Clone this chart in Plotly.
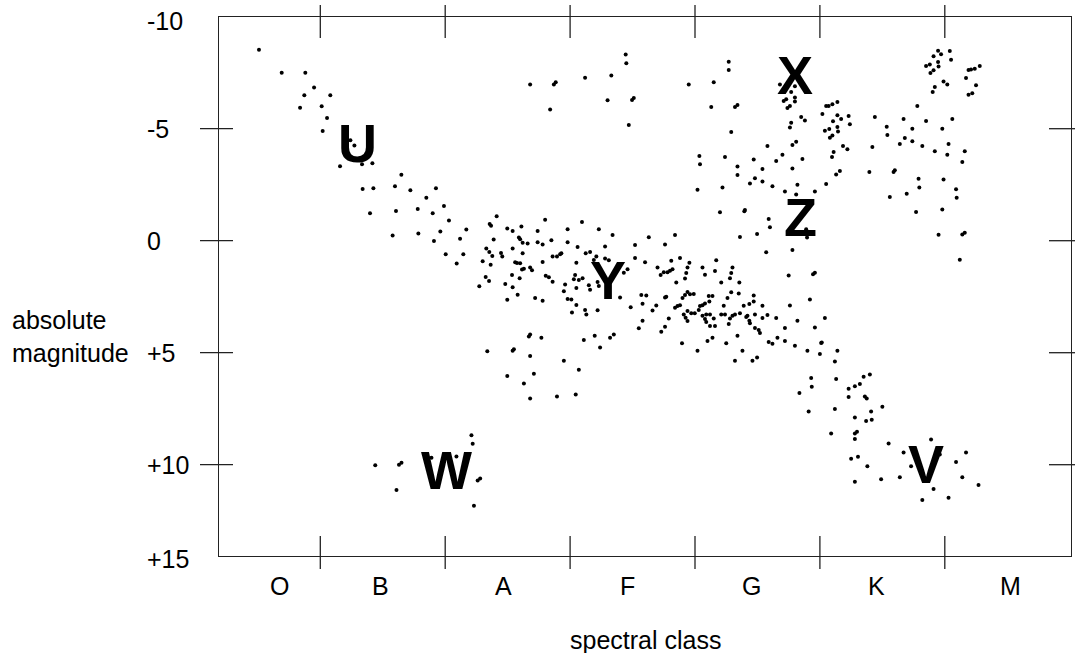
import plotly.graph_objects as go

# ---------------- data (spectral position: B0=10, A0=20, F0=30, G0=40, K0=50, M0=60) ----------------
hot_x = [5.09, 6.91, 8.80, 9.50, 8.72, 10.80, 8.38, 10.11, 10.54, 10.19, 12.41, 12.73, 11.58, 13.34, 14.17,
         16.49, 13.39, 14.25, 15.98, 17.21, 19.26, 18.49, 19.90,
         13.98, 16.06, 17.80, 19.00, 20.30, 15.79, 17.85, 19.61, 19.10, 21.69, 21.19, 20.04, 21.45, 20.92,
         24.12, 23.56, 23.67, 24.97, 23.88, 23.29, 23.53, 23.77, 24.47, 24.57, 23.00, 23.64, 23.24, 23.51,
         22.73, 24.81, 24.97, 23.37, 24.97]
hot_m = [-8.52, -7.50, -7.50, -6.84, -6.49, -6.49, -5.93, -6.00, -5.48, -4.90, -4.48, -4.25, -3.32, -3.41, -3.46,
         -2.94, -2.31, -2.34, -2.43, -2.25, -2.34, -1.92, -1.55,
         -1.22, -1.33, -1.42, -1.22, -0.90, -0.23, -0.32, -0.41, 0.01, -0.50, -0.09, 0.61, 0.61, 1.02,
         -1.09, -0.75, -0.67, -0.54, -0.05, 0.35, 0.50, 0.68, 0.55, 0.71, 0.92, 1.07, 1.62, 1.80,
         2.03, 1.93, 2.64, 4.94, 6.04]

mid_x = [28.0, 30.95, 25.4, 26.1, 27.4, 29.8, 32.3, 33.4, 36.3, 38.4, 37.6, 35.2, 42.0, 43.95, 44.0, 45.9, 46.0,
         44.97, 43.6, 45.7, 47.8, 25.9, 26.0, 26.2, 26.6, 27.4, 27.8, 28.5, 29.8, 30.6, 25.4, 26.2, 28.6, 28.95,
         29.2, 29.3, 31.25, 31.6, 32.1, 32.8, 32.8, 33.1, 35.2, 36.0, 27.8, 25.6, 25.75, 26.0, 26.3, 26.15, 26.8,
         26.95, 30.5, 31.9, 25.35, 25.96, 28.05, 28.3, 28.6, 30.4, 30.3, 30.7, 31.0, 29.6, 30.5, 31.5, 31.6, 32.2,
         32.3, 25.4, 25.8, 27.2, 27.8, 29.5, 29.8, 30.1, 30.5, 31.2, 31.3, 30.15, 32.2, 34.0, 34.3, 34.6, 34.85,
         37.0, 37.25, 37.5, 37.8, 38.0, 38.2, 38.1, 38.8, 39.55, 39.4, 39.3, 39.2, 38.5, 40.6, 40.8, 41.7, 41.6,
         43.0, 42.9, 42.8, 42.1, 43.55, 35.7, 36.1, 35.8, 36.6, 36.9, 37.6, 37.7, 37.9, 37.6, 37.3, 35.8, 35.5,
         38.4, 38.6, 38.8, 39.0, 39.2, 39.4, 39.6, 39.9, 39.1, 39.4, 39.25, 39.4, 39.7, 39.98, 40.3, 40.4, 40.6,
         40.8, 41.1, 41.4, 41.15, 40.6, 40.9, 40.8, 41.2, 41.5, 41.2, 41.6, 40.9, 42.3, 42.6, 42.9, 43.5, 42.1,
         42.4, 42.7, 42.8, 43.0, 43.2, 43.6, 43.9, 44.35, 44.7, 44.7, 45.4, 44.2, 44.1, 44.8, 44.35, 44.4, 44.8,
         45.1, 45.2, 45.4, 45.8, 46.5, 47.2, 45.9, 46.2, 46.6, 47.2, 48.0, 47.6, 47.5, 48.2, 43.4, 42.5, 43.8,
         41.4, 41.0, 40.2, 38.96, 43.2, 44.6, 44.97, 26.8, 26.7, 27.7, 25.4, 25.5, 26.8, 27.1, 26.3, 26.8, 28.95,
         30.45, 29.5, 30.7, 31.1, 31.97, 32.4, 33.2, 33.5]
mid_m = [-0.94, -0.84, -0.43, -0.63, -0.43, -0.51, -0.51, -0.26, -0.15, -0.26, 0.17, 0.19, -1.27, -1.31, -1.37,
         -0.97, -0.60, -0.30, -0.17, 0.52, 0.41, -0.14, -0.06, 0.09, 0.12, 0.07, 0.17, -0.02, 0.07, 0.28, 0.35,
         0.56, 0.71, 0.71, 0.61, 0.56, 0.56, 0.50, 0.71, 0.26, 0.79, 0.87, 0.77, 0.96, 0.95, 0.96, 0.99, 1.01,
         1.25, 1.29, 1.20, 1.32, 0.98, 0.86, 1.53, 1.68, 1.57, 1.63, 1.83, 1.53, 1.72, 1.75, 1.68, 1.95, 2.11,
         1.99, 2.19, 1.84, 2.02, 2.08, 2.41, 2.56, 2.68, 2.26, 2.60, 2.63, 2.87, 3.09, 3.30, 3.21, 3.11, 2.54,
         1.43, 1.28, 2.97, 1.20, 1.53, 1.41, 1.41, 1.34, 1.28, 0.89, 0.77, 0.98, 1.20, 1.44, 1.69, 1.87, 1.20,
         1.52, 0.87, 1.35, 1.20, 1.44, 1.68, 1.87, 1.87, 2.42, 2.45, 2.81, 3.12, 2.89, 2.54, 2.50, 3.47, 3.84,
         4.07, 3.57, 3.91, 2.99, 2.91, 2.88, 2.56, 2.42, 2.29, 2.39, 2.38, 3.29, 3.14, 3.44, 3.58, 3.24, 3.24,
         3.09, 2.91, 2.88, 2.80, 2.47, 2.47, 2.71, 3.35, 3.30, 3.49, 3.30, 3.47, 3.81, 3.81, 3.63, 2.90, 2.56,
         2.30, 2.36, 3.30, 3.30, 3.72, 3.47, 3.35, 3.29, 3.24, 2.90, 2.83, 2.71, 2.45, 2.90, 3.35, 3.41, 3.30,
         3.57, 3.69, 3.90, 3.99, 4.12, 3.45, 3.32, 3.45, 3.90, 4.52, 4.60, 4.33, 4.48, 4.69, 2.89, 1.55, 3.57,
         4.24, 4.58, 4.91, 4.33, 4.48, 4.91, 4.58, 5.36, 5.36, 5.21, 4.19, 4.28, 4.33, 4.91, 4.85, 5.15, 5.94,
         6.37, 7.04, 6.96, 6.87, 5.36, 5.76, 4.43, 4.24, 4.77, 4.33, 4.19]

bright_x = [26.8, 28.7, 28.85, 28.4, 31.2, 33.3, 33.0, 34.45, 34.5, 34.96, 35.1, 34.7, 39.5, 41.5, 42.7, 42.7,
            41.3, 43.2, 43.4, 42.9, 40.35, 40.4, 42.4, 43.4, 43.4, 44.7, 45.4, 44.8, 44.4, 45.4, 46.2, 47.2,
            40.2, 42.2, 45.8, 46.5, 47.0, 47.8, 48.1, 47.8, 48.2, 48.1, 46.8, 47.7, 48.0, 47.1, 47.3, 48.0, 48.0,
            47.4, 47.6, 47.7, 47.6,
            48.5, 48.8, 48.6, 49.6, 50.5, 50.2, 50.5, 50.7, 51.0, 51.4, 51.05, 51.4, 51.7, 52.3, 52.4, 51.4,
            51.45, 50.4, 50.75, 51.0, 50.8, 51.85, 52.2, 51.1, 50.97, 51.6, 51.3, 54.4, 54.2, 53.96, 55.35, 55.4,
            56.7, 56.8, 56.4, 57.4, 57.4, 57.8, 58.5, 58.2, 59.2, 59.8, 60.3, 60.2, 60.6, 61.6, 61.4, 55.9, 56.0,
            55.6, 56.95, 57.9, 57.96, 59.9, 60.9, 60.95, 59.46, 60.4, 59.1, 59.7, 60.5, 58.5, 58.8, 59.46, 59.5,
            58.85, 59.1, 59.9, 60.2, 59.2, 59.03, 61.7, 61.9, 62.1, 62.4, 62.8, 62.5, 61.9, 62.2]
bright_m = [-6.97, -6.97, -7.07, -5.86, -7.28, -7.38, -6.27, -8.31, -7.92, -6.28, -6.37, -5.17, -6.97, -7.07,
            -7.99, -7.62, -5.97, -5.97, -6.06, -4.85, -3.78, -3.41, -3.74, -3.31, -2.93, -3.63, -3.20, -2.79,
            -2.55, -2.64, -2.43, -2.20, -2.28, -2.38, -4.23, -3.56, -3.84, -4.27, -4.42, -3.22, -2.50, -2.06,
            -6.97, -6.64, -6.89, -6.24, -6.31, -6.39, -6.21, -5.92, -6.01, -5.27, -5.05,
            -5.52, -5.37, -3.65, -2.20, -2.53, -5.66, -6.01, -6.01, -6.09, -6.19, -5.33, -5.60, -5.43, -5.57,
            -5.20, -5.08, -4.88, -4.91, -4.99, -4.70, -4.60, -4.23, -4.08, -3.96, -3.74, -3.11, -2.96, -5.52,
            -4.18, -3.07, -5.09, -4.72, -5.43, -4.59, -4.32, -5.00, -4.44, -6.01, -5.34, -4.23, -3.99, -5.00,
            -4.32, -3.84, -5.43, -3.99, -3.51, -3.07, -3.14, -1.95, -2.10, -2.77, -2.38, -2.73, -2.30, -1.92,
            -8.48, -8.47, -8.23, -8.32, -8.08, -7.80, -7.87, -7.98, -7.78, -7.49, -7.61, -7.11, -6.97, -6.86,
            -6.64, -7.26, -7.62, -7.64, -7.68, -7.80, -6.94, -6.52, -6.58]

cool_x = [48.9, 48.97, 57.7, 59.8, 59.5, 61.4, 61.6, 61.2, 49.45, 49.6, 49.2, 50.4, 49.6, 50.1, 50.15, 49.0,
          50.0, 51.4, 51.2, 49.3, 49.35, 51.3, 48.36, 52.3, 52.8, 53.2, 53.5, 54.0, 52.3, 53.6, 53.75,
          49.1, 51.2, 52.8, 54.1, 55.0, 53.7, 54.15, 50.9, 52.8, 52.97, 52.8, 55.5, 52.5, 53.05, 53.8, 52.8,
          54.9, 56.4, 56.7, 57.3, 58.9, 59.6, 59.1, 58.2, 60.3, 60.9, 61.7, 61.4, 62.7]
cool_m = [-0.51, -0.14, -1.28, -1.39, -0.27, -0.28, -0.36, 0.85, 1.50, 1.43, 2.63, 3.45, 3.88, 4.57, 4.55, 4.91,
          5.06, 4.91, 5.39, 6.13, 6.52, 6.17, 6.80, 6.61, 6.50, 6.40, 6.07, 5.97, 6.98, 6.95, 7.05,
          7.62, 7.51, 7.89, 7.62, 7.41, 8.05, 7.99, 8.61, 8.61, 8.53, 8.85, 9.05, 9.73, 9.64, 10.07, 10.76,
          10.65, 10.56, 9.45, 10.07, 8.87, 9.54, 11.08, 11.58, 11.47, 9.88, 9.45, 10.56, 10.91]

dwarf_x = [14.4, 16.3, 16.5, 16.1, 18.9, 20.9, 22.1, 22.2, 22.6, 22.8, 22.3]
dwarf_m = [10.03, 10.00, 9.91, 11.13, 9.69, 9.63, 8.69, 9.06, 10.71, 10.62, 11.83]

class_labels = ["O", "B", "A", "F", "G", "K", "M"]
class_label_pos = [6.77, 14.78, 24.63, 34.56, 44.56, 54.57, 65.22]
class_bounds = [10, 20, 30, 40, 50, 60]

mag_ticks = [-10, -5, 0, 5, 10, 15]
mag_labels = ["-10", "-5", "0", "+5", "+10", "+15"]

region_letters = ["U", "X", "Z", "Y", "W", "V"]
region_px = [(357, 142.5), (795, 75.5), (800, 217), (608, 280), (446.5, 470), (925.5, 464)]

# ---------------- figure ----------------
W, H = 1075, 653
L, R, T, B = 219, 4, 17, 97
pw, ph = W - L - R, H - T - B


def pxx(px):
    return (px - L) / pw


def pxy(py):
    return (H - B - py) / ph


def mag_to_py(m):
    return 240.7 + 22.4 * m


FONT = "Liberation Sans, Arial, sans-serif"
FS = 25

all_x = hot_x + mid_x + bright_x + cool_x + dwarf_x
all_m = hot_m + mid_m + bright_m + cool_m + dwarf_m

fig = go.Figure()
fig.add_trace(go.Scatter(x=all_x, y=all_m, mode="markers",
                         marker=dict(size=4, color="black", line=dict(width=0)),
                         hoverinfo="skip", showlegend=False))

shapes = []
tick_col = "#222222"
for b in class_bounds:
    shapes.append(dict(type="line", xref="x", yref="paper", x0=b, x1=b, y0=pxy(5), y1=pxy(38),
                       line=dict(color=tick_col, width=1.3)))
    shapes.append(dict(type="line", xref="x", yref="paper", x0=b, x1=b, y0=pxy(536), y1=pxy(569),
                       line=dict(color=tick_col, width=1.3)))
for m in [-5, 0, 5, 10]:
    shapes.append(dict(type="line", xref="paper", yref="y", x0=pxx(200), x1=pxx(233), y0=m, y1=m,
                       line=dict(color=tick_col, width=1.3)))
    shapes.append(dict(type="line", xref="paper", yref="y", x0=pxx(1049), x1=pxx(1075), y0=m, y1=m,
                       line=dict(color=tick_col, width=1.3)))

ann = []
for lab, pos in zip(class_labels, class_label_pos):
    ann.append(dict(x=pos, y=pxy(586), xref="x", yref="paper", text=lab, showarrow=False,
                    xanchor="center", yanchor="middle", font=dict(family=FONT, size=FS, color="black")))
for v, lab in zip(mag_ticks, mag_labels):
    py = min(max(mag_to_py(v), 20.7), 559)
    ann.append(dict(x=pxx(145), y=pxy(py), xref="paper", yref="paper", text=lab, showarrow=False,
                    xanchor="left", yanchor="middle", font=dict(family=FONT, size=FS, color="black")))
for lab, (px, py) in zip(region_letters, region_px):
    ann.append(dict(x=pxx(px), y=pxy(py), xref="paper", yref="paper", text=lab, showarrow=False,
                    xanchor="center", yanchor="middle",
                    font=dict(family=FONT, size=54, color="black", weight="bold")))
ann.append(dict(x=pxx(645), y=pxy(640), xref="paper", yref="paper", text="spectral class", showarrow=False,
                xanchor="center", yanchor="middle", font=dict(family=FONT, size=FS, color="black")))
ann.append(dict(x=pxx(10), y=pxy(336), xref="paper", yref="paper", text="absolute<br>magnitude",
                showarrow=False, xanchor="left", yanchor="middle", align="left",
                font=dict(family=FONT, size=FS, color="black")))

x_left = 10 + (L - 320.3) / 12.49
x_right = 10 + (W - R - 320.3) / 12.49
y_top = (T - 240.7) / 22.4
y_bot = (H - B - 240.7) / 22.4

fig.update_layout(
    width=W, height=H,
    margin=dict(l=L, r=R, t=T, b=B, pad=0),
    paper_bgcolor="white", plot_bgcolor="white",
    shapes=shapes, annotations=ann,
    xaxis=dict(range=[x_left, x_right], showgrid=False, zeroline=False, showticklabels=False, ticks="",
               showline=True, mirror=True, linecolor=tick_col, linewidth=1.3, fixedrange=True),
    yaxis=dict(range=[y_bot, y_top], showgrid=False, zeroline=False, showticklabels=False, ticks="",
               showline=True, mirror=True, linecolor=tick_col, linewidth=1.3, fixedrange=True),
)

fig.write_html("out.html", config=dict(displayModeBar=False))
